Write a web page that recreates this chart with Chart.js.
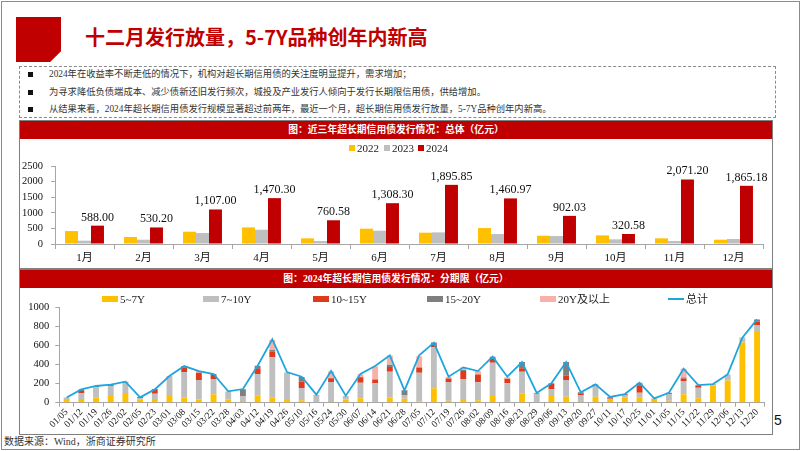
<!DOCTYPE html>
<html><head><meta charset="utf-8">
<script src="https://cdn.jsdelivr.net/npm/chart.js@4.4.1/dist/chart.umd.min.js"></script>
<style>
html,body{margin:0;padding:0;background:#fff;}
#slide{position:relative;width:802px;height:451px;overflow:hidden;background:#fff;font-family:"Liberation Serif","Noto Sans CJK SC",serif;}
#frame{position:absolute;left:1px;top:1px;width:797px;height:447px;border:1px solid #8c8c8c;}
#logo{position:absolute;left:16px;top:17px;width:45px;height:45px;background:#C00000;clip-path:polygon(0 0,100% 0,100% 76%,76% 100%,0 100%);}
#title{position:absolute;left:85px;top:23px;font-family:"Noto Sans CJK SC";font-weight:bold;font-size:20px;color:#C00000;line-height:28px;white-space:nowrap;}
#notes{position:absolute;left:19px;top:66px;width:755px;height:50px;border:1px dashed #8a8a8a;}
.row{position:absolute;left:29px;font-family:"Liberation Serif","Noto Sans CJK SC";font-size:9.3px;line-height:12px;color:#333;white-space:nowrap;}
.dot{position:absolute;left:8px;width:5px;height:5px;background:#111;}
.panel{position:absolute;left:19px;width:752px;border:1px solid #7f7f7f;}
.head{position:absolute;left:0;top:0;width:100%;height:18px;background:#C00000;color:#fff;font-family:"Liberation Serif","Noto Sans CJK SC";font-weight:bold;text-align:center;line-height:18px;white-space:nowrap;}
canvas{position:absolute;}
.leg{position:absolute;font-family:"Liberation Serif","Noto Sans CJK SC";font-size:11px;color:#222;white-space:nowrap;line-height:12px;}
.leg span.sw{display:inline-block;vertical-align:middle;margin-right:2px;position:relative;top:-1px;}
#foot{position:absolute;left:4px;top:435px;font-family:"Liberation Serif","Noto Sans CJK SC";font-size:10px;line-height:13px;color:#333;white-space:nowrap;}
#pg{position:absolute;left:774px;top:412px;font-family:"Liberation Sans",Arial,sans-serif;font-size:14px;line-height:17px;color:#111;}
</style></head>
<body>
<div id="slide">
  <div id="frame"></div>
  <div id="logo"></div>
  <div id="title">十二月发行放量，5-7Y品种创年内新高</div>
  <div id="notes">
    <div class="dot" style="top:5px"></div><div class="row" style="top:1px">2024年在收益率不断走低的情况下，机构对超长期信用债的关注度明显提升，需求增加；</div>
    <div class="dot" style="top:23px"></div><div class="row" style="top:19px">为寻求降低负债端成本、减少债新还旧发行频次，城投及产业发行人倾向于发行长期限信用债，供给增加。</div>
    <div class="dot" style="top:40px"></div><div class="row" style="top:36px">从结果来看，2024年超长期信用债发行规模显著超过前两年，最近一个月，超长期信用债发行放量，5-7Y品种创年内新高。</div>
  </div>
  <div class="panel" style="top:120px;height:147px;">
    <div class="head" style="font-size:9.8px;">图：近三年超长期信用债发行情况：总体（亿元）</div>
  </div>
  <div class="panel" style="top:269px;height:164px;">
    <div class="head" style="font-size:9.8px;">图：2024年超长期信用债发行情况：分期限（亿元）</div>
  </div>
  <canvas id="c1" width="752" height="128" style="left:20px;top:139px;width:752px;height:128px;"></canvas>
  <canvas id="c2" width="751" height="143" style="left:20px;top:289px;width:751px;height:143px;"></canvas>
  <div id="leg1"></div>
  <div id="leg2"></div>
  <div id="foot">数据来源：Wind，浙商证券研究所</div>
  <div id="pg">5</div>
</div>
<script>
// ---------- data: chart 1 (monthly totals, 亿元) ----------
const months = ['1月','2月','3月','4月','5月','6月','7月','8月','9月','10月','11月','12月'];
const yearNames = ['2022','2023','2024'];
const s2022 = [415,224,394,532,181,490,362,511,266,277,181,138];
const s2023 = [106,138,351,457,96,426,372,319,255,149,96,160];
const s2024 = [588.00,530.20,1107.00,1470.30,760.58,1308.30,1895.85,1460.97,902.03,320.58,2071.20,1865.18];
const yTicks1 = [0,500,1000,1500,2000,2500];

// ---------- data: chart 2 (weekly by tenor, 亿元) ----------
const weeks = ['01/05','01/12','01/19','01/26','02/02','02/05','02/23','03/01','03/08','03/15','03/22','03/28','04/03','04/12','04/19','04/26','05/10','05/16','05/24','05/30','06/07','06/14','06/21','06/28','07/05','07/12','07/19','07/26','08/02','08/09','08/16','08/23','08/29','09/06','09/13','09/20','09/27','10/11','10/17','10/25','11/01','11/05','11/15','11/22','11/29','12/06','12/13','12/20'];
const tenorNames = ['5~7Y','7~10Y','10~15Y','15~20Y','20Y及以上'];
const totalName = '总计';
const y5_7  = [38,39,53,80,102,32,39,80,56,35,88,35,18,74,53,28,25,5,18,35,46,5,56,42,15,151,21,28,25,70,5,95,5,81,63,18,63,28,53,53,42,21,88,46,179,235,635,754];
const y7_10 = [17,60,109,95,109,14,56,200,267,203,161,84,53,228,425,291,130,80,200,35,165,200,270,39,300,432,196,221,189,351,200,232,90,60,175,63,126,14,28,53,4,70,140,112,18,63,42,63];
const y10_15= [0,25,0,0,0,0,39,0,46,77,42,0,0,60,60,0,65,0,40,0,56,39,49,0,55,25,39,84,84,42,46,35,0,56,46,18,0,14,7,77,0,0,28,21,0,0,0,35];
const y15_20= [0,15,14,14,10,14,10,0,18,0,11,0,70,28,18,0,50,0,0,0,0,0,25,49,0,25,0,10,0,21,0,66,7,7,144,11,4,4,4,21,0,14,10,7,0,0,7,25];
const y20p  = [0,0,0,0,0,0,0,0,0,18,0,0,0,0,105,0,0,0,70,0,32,140,98,0,120,0,14,28,35,0,18,0,0,0,0,0,0,0,0,7,0,0,92,0,0,0,0,0];
const totals= [55,140,176,190,221,56,140,281,386,333,302,119,144,389,667,323,274,85,333,74,302,386,498,130,498,632,274,372,333,484,274,428,102,204,428,109,193,60,91,211,46,105,358,186,196,298,684,877];
const yTicks2 = [0,200,400,600,800,1000];

// ---------- styles ----------
const yearColors = ['#FFC000','#BFBFBF','#C00000'];
const tenorColors = ['#FFC000','#BFBFBF','#E0391C','#7F7F7F','#F7B1A9'];
const lineColor = '#1FA6DE';
const axisColor = '#A6A6A6';
const SERIF = '"Liberation Serif","Noto Sans CJK SC",serif';

Chart.defaults.font.family = SERIF;
Chart.defaults.color = '#222';

const fmt = v => v.toLocaleString('en-US',{minimumFractionDigits:2,maximumFractionDigits:2});
const plain = v => String(v);

const barLabels = {
  id:'barLabels',
  afterDatasetsDraw(chart){
    const meta = chart.getDatasetMeta(2);
    const ctx = chart.ctx;
    ctx.save();
    ctx.font = '12px ' + SERIF;
    ctx.fillStyle = '#111';
    ctx.textAlign = 'center';
    ctx.textBaseline = 'alphabetic';
    meta.data.forEach((el,i)=>{
      ctx.fillText(fmt(chart.data.datasets[2].data[i]), el.x, el.y - 5);
    });
    ctx.restore();
  }
};

new Chart(document.getElementById('c1'), {
  type:'bar',
  data:{
    labels: months,
    datasets: [s2022,s2023,s2024].map((d,i)=>({label:yearNames[i], data:d, backgroundColor:yearColors[i], categoryPercentage:0.66, barPercentage:1.0}))
  },
  options:{
    responsive:false, animation:false, devicePixelRatio:1,
    layout:{padding:{left:0,right:9,top:27,bottom:0}},
    plugins:{legend:{display:false}, tooltip:{enabled:false}},
    scales:{
      x:{
        grid:{display:true, drawOnChartArea:false, drawTicks:true, tickLength:5, color:axisColor, offset:true},
        border:{color:axisColor},
        ticks:{font:{size:11}, color:'#111', padding:3, maxRotation:0},
        afterFit(s){ s.height = 23; }
      },
      y:{
        min:0, max:2500,
        afterBuildTicks(s){ s.ticks = yTicks1.map(v=>({value:v})); },
        grid:{display:true, drawOnChartArea:false, drawTicks:true, tickLength:4, color:axisColor},
        border:{color:axisColor},
        ticks:{font:{size:10.5}, color:'#111', padding:8, callback:plain},
        afterFit(s){ s.width = 35; }
      }
    }
  },
  plugins:[barLabels]
});

const ds2 = tenorNames.map((n,i)=>({
  type:'bar', label:n, data:[y5_7,y7_10,y10_15,y15_20,y20p][i], backgroundColor:tenorColors[i],
  stack:'bars', order:2, categoryPercentage:0.8, barPercentage:0.5
}));
ds2.unshift({type:'line', label:totalName, data:totals, borderColor:lineColor, borderWidth:1.8, pointRadius:0, tension:0, fill:false, stack:'line', order:0});

new Chart(document.getElementById('c2'), {
  type:'bar',
  data:{ labels: weeks, datasets: ds2 },
  options:{
    responsive:false, animation:false, devicePixelRatio:1,
    layout:{padding:{left:0,right:6.6,top:18.7,bottom:0}},
    plugins:{legend:{display:false}, tooltip:{enabled:false}},
    scales:{
      x:{
        grid:{display:true, drawOnChartArea:false, drawTicks:true, tickLength:4, color:axisColor, offset:true},
        border:{color:axisColor},
        ticks:{font:{size:9.5}, color:'#111', padding:0, autoSkip:false, maxRotation:45, minRotation:45},
        afterFit(s){ s.height = 29.3; }
      },
      y:{
        stacked:true, min:0, max:1000,
        afterBuildTicks(s){ s.ticks = yTicks2.map(v=>({value:v})); },
        grid:{display:true, drawOnChartArea:false, drawTicks:true, tickLength:4, color:axisColor},
        border:{color:axisColor},
        ticks:{font:{size:10.5}, color:'#111', padding:6, callback:plain},
        afterFit(s){ s.width = 39.3; }
      }
    }
  }
});

// ---------- legends (built from the series names/colours) ----------
function legendItem(parent, left, top, swW, swH, color, text){
  const d = document.createElement('div');
  d.className = 'leg';
  d.style.left = left + 'px';
  d.style.top = top + 'px';
  const sw = document.createElement('span');
  sw.className = 'sw';
  sw.style.width = swW + 'px';
  sw.style.height = swH + 'px';
  sw.style.background = color;
  d.appendChild(sw);
  d.appendChild(document.createTextNode(text));
  parent.appendChild(d);
}
const slide = document.getElementById('slide');
const leg1X = [349, 384, 418];
yearNames.forEach((n,i)=>legendItem(slide, leg1X[i], 142, 6, 6, yearColors[i], n));
const leg2X = [102, 203, 313, 427, 540];
tenorNames.forEach((n,i)=>legendItem(slide, leg2X[i], 293, 16, 6, tenorColors[i], n));
legendItem(slide, 668, 293, 16, 2, lineColor, totalName);
</script>
</body></html>
